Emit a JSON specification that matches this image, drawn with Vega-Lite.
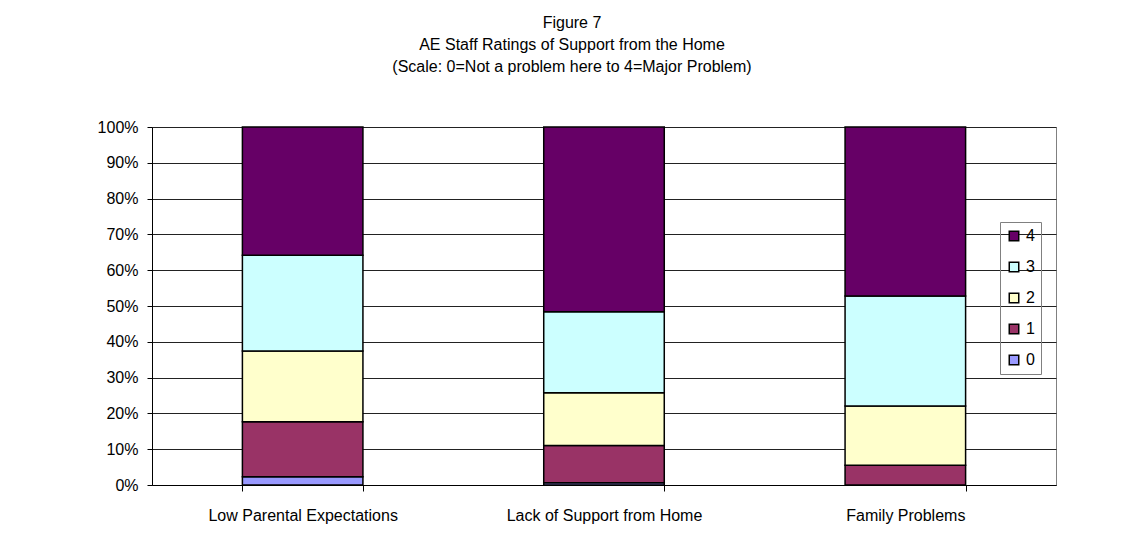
{
  "$schema": "https://vega.github.io/schema/vega-lite/v6.json",
  "autosize": {"type": "none"},
  "padding": {"left": 152, "top": 127, "right": 76, "bottom": 69},
  "width": 904,
  "height": 358,
  "background": "white",
  "title": {
    "text": ["Figure 7", "AE Staff Ratings of Support from the Home", "(Scale: 0=Not a problem here to 4=Major Problem)"],
    "anchor": "middle",
    "frame": "group",
    "dx": -32,
    "offset": 44,
    "font": "Liberation Sans",
    "fontSize": 16,
    "fontWeight": "normal",
    "color": "#000000",
    "lineHeight": 22
  },
  "data": {
    "values": [
      {"category": "Low Parental Expectations", "rating": "0", "r": 0, "value": 2.3},
      {"category": "Low Parental Expectations", "rating": "1", "r": 1, "value": 15.4},
      {"category": "Low Parental Expectations", "rating": "2", "r": 2, "value": 19.7},
      {"category": "Low Parental Expectations", "rating": "3", "r": 3, "value": 26.8},
      {"category": "Low Parental Expectations", "rating": "4", "r": 4, "value": 35.8},
      {"category": "Lack of Support from Home", "rating": "0", "r": 0, "value": 0.6},
      {"category": "Lack of Support from Home", "rating": "1", "r": 1, "value": 10.4},
      {"category": "Lack of Support from Home", "rating": "2", "r": 2, "value": 14.8},
      {"category": "Lack of Support from Home", "rating": "3", "r": 3, "value": 22.6},
      {"category": "Lack of Support from Home", "rating": "4", "r": 4, "value": 51.6},
      {"category": "Family Problems", "rating": "0", "r": 0, "value": 0},
      {"category": "Family Problems", "rating": "1", "r": 1, "value": 5.5},
      {"category": "Family Problems", "rating": "2", "r": 2, "value": 16.6},
      {"category": "Family Problems", "rating": "3", "r": 3, "value": 30.7},
      {"category": "Family Problems", "rating": "4", "r": 4, "value": 47.2}
    ]
  },
  "mark": {"type": "bar", "stroke": "#000000", "strokeWidth": 1.5},
  "encoding": {
    "x": {
      "field": "category",
      "type": "nominal",
      "sort": ["Low Parental Expectations", "Lack of Support from Home", "Family Problems"],
      "scale": {"paddingInner": 0.6, "paddingOuter": 0.3},
      "axis": {
        "title": null,
        "labelAngle": 0,
        "labelLimit": 0,
        "tickBand": "extent",
        "tickSize": 6,
        "tickColor": "#000000",
        "domainColor": "#000000",
        "labelPadding": 16,
        "labelFont": "Liberation Sans",
        "labelFontSize": 16,
        "labelColor": "#000000",
        "grid": false
      }
    },
    "y": {
      "field": "value",
      "type": "quantitative",
      "stack": "zero",
      "scale": {"domain": [0, 100], "nice": false},
      "axis": {
        "title": null,
        "values": [0, 10, 20, 30, 40, 50, 60, 70, 80, 90, 100],
        "labelExpr": "datum.value + '%'",
        "tickSize": 5,
        "tickColor": "#000000",
        "domainColor": "#000000",
        "labelPadding": 9,
        "labelFont": "Liberation Sans",
        "labelFontSize": 16,
        "labelColor": "#000000",
        "grid": true,
        "gridColor": "#222222",
        "gridWidth": 1
      }
    },
    "color": {
      "field": "rating",
      "type": "nominal",
      "scale": {
        "domain": ["4", "3", "2", "1", "0"],
        "range": ["#660066", "#CCFFFF", "#FFFFCC", "#993366", "#9999FF"]
      },
      "legend": {
        "title": null,
        "orient": "none",
        "legendX": 848,
        "legendY": 95,
        "symbolType": "square",
        "symbolSize": 90,
        "symbolStrokeColor": "#000000",
        "symbolStrokeWidth": 1.5,
        "labelFont": "Liberation Sans",
        "labelFontSize": 16,
        "labelColor": "#000000",
        "rowPadding": 15,
        "strokeColor": "#808080",
        "padding": 6
      }
    },
    "order": {"field": "r", "type": "quantitative", "sort": "ascending"}
  },
  "config": {
    "view": {"stroke": "#808080"}
  }
}
